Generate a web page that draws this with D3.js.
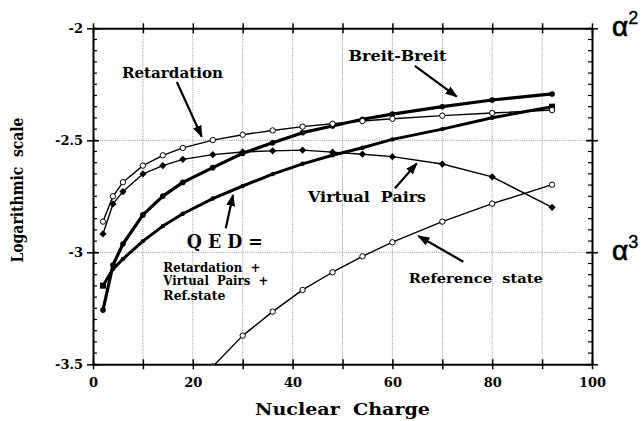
<!DOCTYPE html>
<html><head><meta charset="utf-8">
<script src="https://cdn.jsdelivr.net/npm/d3@7"></script>
<style>body{margin:0;background:#fff}svg{display:block}</style>
</head><body>
<script>
// ---- data ----
const Z = [2,4,6,10,14,18,24,30,36,42,48,54,60,70,80,92];
const retardation  = [-2.863,-2.750,-2.687,-2.613,-2.567,-2.534,-2.499,-2.475,-2.456,-2.439,-2.426,-2.414,-2.404,-2.390,-2.378,-2.365];
const virtualPairs = [-2.918,-2.784,-2.729,-2.650,-2.613,-2.585,-2.564,-2.552,-2.547,-2.544,-2.553,-2.562,-2.573,-2.606,-2.663,-2.799];
const breitBreit   = [-3.258,-3.057,-2.963,-2.833,-2.749,-2.688,-2.622,-2.558,-2.511,-2.466,-2.436,-2.406,-2.383,-2.350,-2.320,-2.293];
const qed          = [-3.149,-3.075,-3.030,-2.950,-2.883,-2.828,-2.760,-2.704,-2.651,-2.605,-2.567,-2.533,-2.496,-2.450,-2.399,-2.350];
const refZ = [24,30,36,42,48,54,60,70,80,92];
const referenceState = [-3.51,-3.372,-3.265,-3.168,-3.089,-3.018,-2.955,-2.863,-2.783,-2.698];
const xTicks = [0,10,20,30,40,50,60,70,80,90,100];
const xLabels = [0,20,40,60,80,100];
const yTicks = [-3.5,-3,-2.5,-2];
const yLabels = ["-3.5","-3","-2.5","-2"];

const W = 641, H = 421;
const svg = d3.select("body").append("svg").attr("width", W).attr("height", H);
const x = d3.scaleLinear().domain([0,100]).range([93,592]);
const y = d3.scaleLinear().domain([-3.5,-2]).range([364.3,28.3]);
const serif = "'DejaVu Serif', 'Liberation Serif', serif";

// grid
const grid = svg.append("g").attr("stroke","#777").attr("stroke-width",0.8).attr("stroke-dasharray","1,1.2");
grid.selectAll("line.v").data(xTicks.filter(d=>d>0&&d<100)).join("line")
  .attr("x1",d=>x(d)).attr("x2",d=>x(d)).attr("y1",y(-2)).attr("y2",y(-3.5));
grid.selectAll("line.h").data([-2.5,-3]).join("line").attr("class","h")
  .attr("x1",x(0)).attr("x2",x(100)).attr("y1",d=>y(d)).attr("y2",d=>y(d));

// axes
const minorY = d3.range(-3.5,-1.999,0.05).map(v=>+v.toFixed(2));
// bottom
const gb = svg.append("g").attr("transform",`translate(0,${y(-3.5)})`)
  .call(d3.axisBottom(x).tickValues(xTicks).tickSize(5).tickSizeOuter(0)
        .tickFormat(d=>xLabels.includes(d)?d:""));
gb.select(".domain").attr("stroke-width",2);
gb.selectAll(".tick line").attr("y1",-5).attr("stroke-width",1.5);
gb.selectAll(".tick text").attr("font-family",serif).attr("font-weight","bold").attr("font-size",13).attr("dy","0.9em").attr("y",11);
// top
const gt = svg.append("g").attr("transform",`translate(0,${y(-2)})`)
  .call(d3.axisTop(x).tickValues(xTicks).tickSize(5).tickSizeOuter(0).tickFormat(""));
gt.select(".domain").attr("stroke-width",2);
gt.selectAll(".tick line").attr("y1",5).attr("stroke-width",1.5);
// left
const gl = svg.append("g").attr("transform",`translate(${x(0)},0)`)
  .call(d3.axisLeft(y).tickValues(yTicks).tickSize(6).tickSizeOuter(0).tickFormat((d,i)=>yLabels[i]));
gl.select(".domain").attr("stroke-width",2);
gl.selectAll(".tick line").attr("x1",6).attr("stroke-width",1.5);
gl.selectAll(".tick text").attr("font-family",serif).attr("font-weight","bold").attr("font-size",13).attr("x",-10);
gl.append("g").selectAll("line").data(minorY).join("line")
  .attr("x1",0).attr("x2",4).attr("y1",d=>y(d)).attr("y2",d=>y(d)).attr("stroke","#000").attr("stroke-width",1.2);
// right
const gr = svg.append("g").attr("transform",`translate(${x(100)},0)`)
  .call(d3.axisRight(y).tickValues(yTicks).tickSize(6).tickSizeOuter(0).tickFormat(""));
gr.select(".domain").attr("stroke-width",2);
gr.selectAll(".tick line").attr("x1",-6).attr("stroke-width",1.5);
gr.append("g").selectAll("line").data(minorY).join("line")
  .attr("x1",0).attr("x2",-4).attr("y1",d=>y(d)).attr("y2",d=>y(d)).attr("stroke","#000").attr("stroke-width",1.2);

// axis titles
svg.append("text").attr("x",x(50)).attr("y",415).attr("text-anchor","middle")
  .attr("font-family",serif).attr("font-weight","bold").attr("font-size",16.5)
  .attr("textLength",175).attr("lengthAdjust","spacingAndGlyphs")
  .attr("xml:space","preserve").text("Nuclear  Charge");
svg.append("text").attr("transform",`translate(23,${190}) rotate(-90)`).attr("text-anchor","middle")
  .attr("font-family",serif).attr("font-weight","bold").attr("font-size",16)
  .attr("textLength",145).attr("lengthAdjust","spacingAndGlyphs")
  .attr("xml:space","preserve").text("Logarithmic  scale");

// alpha labels
function alpha(v, sup){
  const t = svg.append("text").attr("x",612).attr("y",y(v)+8).attr("font-family","'Liberation Sans', Arial, sans-serif")
    .attr("font-size",28).attr("stroke","#000").attr("stroke-width",0.7);
  t.append("tspan").text("α");
  t.append("tspan").attr("font-size",18).attr("dy",-12).attr("stroke-width",0.4).text(sup);
}
alpha(-2,"2"); alpha(-3,"3");

// clip
svg.append("defs").append("clipPath").attr("id","clip").append("rect")
  .attr("x",x(0)).attr("y",y(-2)).attr("width",x(100)-x(0)).attr("height",y(-3.5)-y(-2));
const plot = svg.append("g").attr("clip-path","url(#clip)");
const line = d3.line().x(d=>x(d[0])).y(d=>y(d[1]));
function series(xs, ys, width){
  const pts = xs.map((v,i)=>[v,ys[i]]);
  plot.append("path").datum(pts).attr("d",line).attr("fill","none").attr("stroke","#000")
    .attr("stroke-width",width).attr("stroke-linejoin","round");
  return pts;
}
// Breit-Breit
const bb = series(Z, breitBreit, 3.2);
plot.selectAll("circle.bb").data(bb).join("circle").attr("cx",d=>x(d[0])).attr("cy",d=>y(d[1])).attr("r",2.8).attr("fill","#000");
// QED
const qq = series(Z, qed, 3);
plot.selectAll("circle.q").data(qq.slice(1,-1)).join("circle").attr("cx",d=>x(d[0])).attr("cy",d=>y(d[1])).attr("r",2.2).attr("fill","#000");
plot.selectAll("rect.q").data([qq[0],qq[qq.length-1]]).join("rect").attr("x",d=>x(d[0])-3).attr("y",d=>y(d[1])-3).attr("width",6).attr("height",6).attr("fill","#000");
// Virtual pairs
const vp = series(Z, virtualPairs, 1.4);
plot.selectAll("path.vp").data(vp).join("path").attr("class","vp")
  .attr("d",d=>`M${x(d[0])},${y(d[1])-3.6}l3.6,3.6l-3.6,3.6l-3.6,-3.6z`).attr("fill","#000");
// Retardation
const rt = series(Z, retardation, 1.4);
plot.selectAll("circle.rt").data(rt).join("circle").attr("class","rt").attr("cx",d=>x(d[0])).attr("cy",d=>y(d[1])).attr("r",2.7)
  .attr("fill","#fff").attr("stroke","#000").attr("stroke-width",1);
// Reference state
const rs = series(refZ, referenceState, 1.4);
plot.selectAll("circle.rs").data(rs).join("circle").attr("class","rs").attr("cx",d=>x(d[0])).attr("cy",d=>y(d[1])).attr("r",2.7)
  .attr("fill","#fff").attr("stroke","#000").attr("stroke-width",1);

// annotations (data coords)
svg.select("defs").append("marker").attr("id","ah").attr("viewBox","0 -5 12 10").attr("refX",11).attr("refY",0)
  .attr("markerWidth",12).attr("markerHeight",10).attr("markerUnits","userSpaceOnUse").attr("orient","auto")
  .append("path").attr("d","M0,-4.5L12,0L0,4.5Z").attr("fill","#000");
const arrows = [
  [16.8,-2.240,21.8,-2.484],
  [64.5,-2.168,72.9,-2.305],
  [60.5,-2.714,64.9,-2.603],
  [26.6,-2.893,28.06,-2.744],
  [74.2,-3.042,65.2,-2.927]
];
svg.append("g").selectAll("line").data(arrows).join("line")
  .attr("x1",d=>x(d[0])).attr("y1",d=>y(d[1])).attr("x2",d=>x(d[2])).attr("y2",d=>y(d[3]))
  .attr("stroke","#000").attr("stroke-width",2.2).attr("marker-end","url(#ah)");

const labels = [
  {t:"Retardation", x:5.8, y:-2.224, w:101, s:14},
  {t:"Breit-Breit", x:51.2, y:-2.148, w:98, s:14},
  {t:"Virtual  Pairs", x:43.1, y:-2.775, w:118, s:14},
  {t:"Q E D =", x:18.8, y:-2.981, w:76, s:19},
  {t:"Retardation  +", x:14.1, y:-3.087, w:97, s:12},
  {t:"Virtual  Pairs  +", x:14.1, y:-3.146, w:105, s:12},
  {t:"Ref.state", x:14.1, y:-3.213, w:62, s:12},
  {t:"Reference  state", x:63.3, y:-3.138, w:134, s:13}
];
svg.append("g").selectAll("text").data(labels).join("text")
  .attr("x",d=>x(d.x)).attr("y",d=>y(d.y)).attr("font-family",serif)
  .attr("font-weight","bold").attr("font-size",d=>d.s)
  .attr("textLength",d=>d.w).attr("lengthAdjust","spacingAndGlyphs")
  .attr("xml:space","preserve").text(d=>d.t);
</script>
</body></html>
